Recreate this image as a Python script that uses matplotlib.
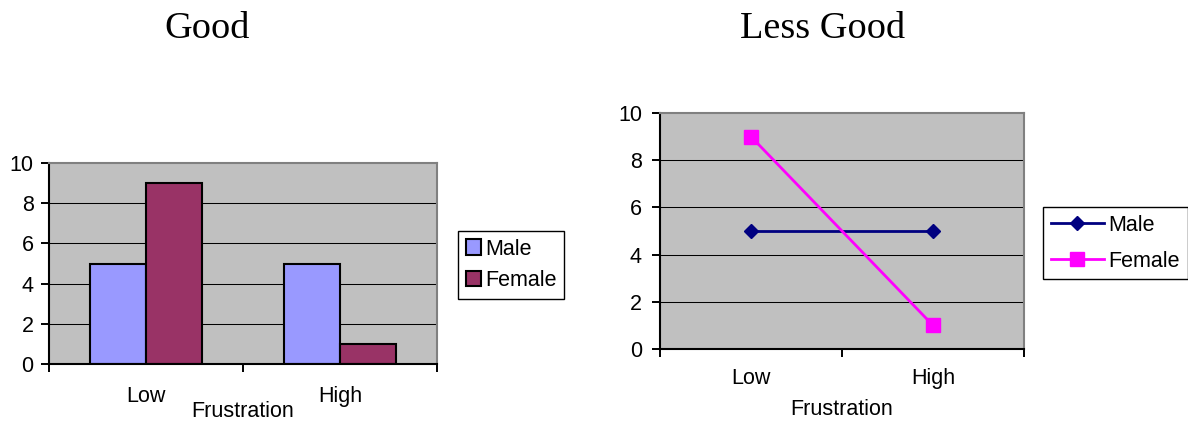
import matplotlib
matplotlib.use("Agg")
import matplotlib.pyplot as plt
import numpy as np
from matplotlib.patches import Patch
from matplotlib.lines import Line2D

categories = ["Low", "High"]
male = [5, 5]
female = [9, 1]
y_ticks = [0, 2, 4, 6, 8, 10]
xlabel = "Frustration"
titles = ["Good", "Less Good"]
series_names = ["Male", "Female"]

SANS = "Liberation Sans"
SERIF = "Liberation Serif"
plt.rcParams["font.family"] = SANS
FS = 15.5

fig = plt.figure(figsize=(11.88, 4.21), dpi=100)

x = np.arange(len(categories))

def style_axes(ax, bottom_pad, label_y, ypad):
    ax.set_facecolor("#C0C0C0")
    ax.set_xlim(-0.5, len(categories) - 0.5)
    ax.set_ylim(0, 10)
    ax.set_yticks(y_ticks)
    ax.set_yticklabels([str(v) for v in y_ticks], fontsize=FS, family=SANS)
    for v in y_ticks[1:-1]:
        ax.axhline(v, color="black", lw=0.75, zorder=1)
    ax.set_xticks(np.arange(-0.5, len(categories), 1.0))
    ax.set_xticklabels([])
    ax.set_xticks(x, minor=True)
    ax.set_xticklabels(categories, minor=True, fontsize=FS, family=SANS)
    ax.tick_params(axis="x", which="major", direction="out", length=6, width=1.4, color="black")
    ax.tick_params(axis="x", which="minor", length=0, pad=bottom_pad)
    ax.tick_params(axis="y", direction="out", length=6, width=1.4, pad=ypad)
    for s in ["top", "right"]:
        ax.spines[s].set_color("#808080")
        ax.spines[s].set_linewidth(1.5)
    for s in ["left", "bottom"]:
        ax.spines[s].set_color("black")
        ax.spines[s].set_linewidth(1.5)
    ax.set_xlabel(xlabel, fontsize=FS, family=SANS)
    ax.xaxis.set_label_coords(0.5, label_y)

# Left: bar chart
ax1 = fig.add_axes([49 / 1188, 1 - 364 / 421, 388 / 1188, 201 / 421])
w = 0.289
ax1.bar(x - w / 2, male, width=w, color="#9999FF", edgecolor="black", lw=1.5, zorder=2)
ax1.bar(x + w / 2, female, width=w, color="#993366", edgecolor="black", lw=1.5, zorder=2)
style_axes(ax1, 16, -0.183, 5)

leg1 = fig.legend(
    handles=[Patch(facecolor="#9999FF", edgecolor="black", lw=1.5),
             Patch(facecolor="#993366", edgecolor="black", lw=1.5)],
    labels=series_names, loc="upper left", bbox_to_anchor=(458 / 1188, 1 - 231 / 421),
    fontsize=FS, fancybox=False, framealpha=1, edgecolor="black",
    handlelength=0.7, handleheight=0.7, handletextpad=0.2, labelspacing=0.5,
    borderpad=0.35, borderaxespad=0)
leg1.get_frame().set_linewidth(1.0)

# Right: line chart
ax2 = fig.add_axes([660 / 1188, 1 - 349 / 421, 364 / 1188, 236 / 421])
ax2.plot(x, male, color="#000080", lw=2, marker="D", ms=6.8, mfc="#000080", mec="#000080", zorder=3)
ax2.plot(x, female, color="#FF00FF", lw=2, marker="s", ms=10.5, mfc="#FF00FF", mec="#FF00FF", zorder=3)
style_axes(ax2, 14, -0.21, 7)

leg2 = fig.legend(
    handles=[Line2D([], [], color="#000080", lw=2, marker="D", ms=6.8),
             Line2D([], [], color="#FF00FF", lw=2, marker="s", ms=10.5)],
    labels=series_names, loc="upper left", bbox_to_anchor=(1043 / 1188, 1 - 207 / 421),
    fontsize=FS, fancybox=False, framealpha=1, edgecolor="black",
    handlelength=2.5, handletextpad=0.2, labelspacing=0.7,
    borderpad=0.35, borderaxespad=0)
leg2.get_frame().set_linewidth(1.0)

fig.text(207 / 1188, 1 - 38 / 421, titles[0], fontsize=27.5, family=SERIF, ha="center", va="baseline")
fig.text(823 / 1188, 1 - 38 / 421, titles[1], fontsize=27.5, family=SERIF, ha="center", va="baseline")

fig.savefig("out.png", dpi=100)
